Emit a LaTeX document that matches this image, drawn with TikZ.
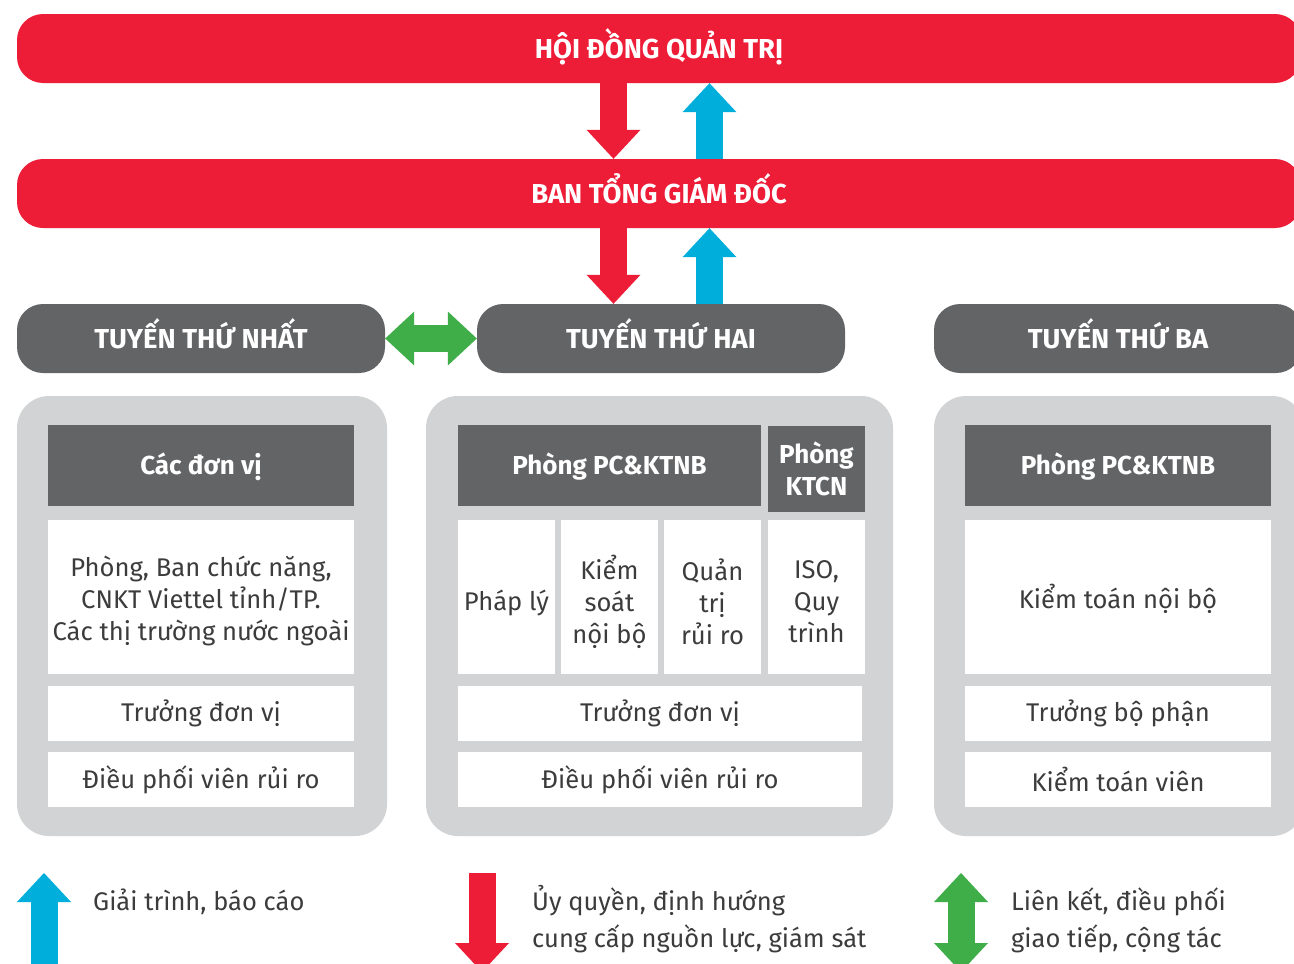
\documentclass[tikz,border=0pt]{standalone}
\usepackage{fontspec}
\setmainfont{Fira Sans}
\newfontfamily\hfont{Fira Sans Bold}
\usetikzlibrary{arrows.meta}
\definecolor{vred}{HTML}{ED1C37}
\definecolor{vblue}{HTML}{00AEDB}
\definecolor{vgreen}{HTML}{3FAE49}
\definecolor{dgray}{HTML}{636466}
\definecolor{lgray}{HTML}{D1D3D4}
\definecolor{txt}{HTML}{3C3C3C}
\begin{document}
\begin{tikzpicture}[x=1pt,y=-1pt,
  pill/.style={rectangle, rounded corners=26pt, inner sep=0pt, minimum height=69pt, text height=19pt, text depth=0pt, text=white, font=\hfont\fontsize{27.4}{30}\selectfont},
  redpill/.style={pill, fill=vred, minimum width=1284pt},
  graypill/.style={pill, fill=dgray, minimum width=368pt},
  panel/.style={rectangle, rounded corners=32pt, fill=lgray, inner sep=0pt, minimum height=440pt},
  hbox/.style={rectangle, fill=dgray, inner sep=0pt, text=white, font=\hfont\fontsize{26}{32}\selectfont, align=center},
  hcap/.style={text height=17.5pt, text depth=0pt},
  wbox/.style={rectangle, fill=white, inner sep=0pt, text=txt, font=\fontsize{25.6}{32}\selectfont, align=center},
  wtxt/.style={inner sep=0pt, text=txt, font=\fontsize{25.6}{32}\selectfont, align=center},
  legtext/.style={anchor=base west, inner sep=0pt, text=txt, font=\fontsize{25.5}{32}\selectfont},
  fatarr/.style={line width=27pt, -{Triangle[width=54pt,length=29pt,line width=0pt]}},
  fatboth/.style={line width=27pt, {Triangle[width=54pt,length=29pt,line width=0pt]}-{Triangle[width=54pt,length=29pt,line width=0pt]}},
]
\useasboundingbox (0,0) rectangle (1294,964);
\clip (0,0) rectangle (1294,964);
\fill[white] (0,0) rectangle (1294,964);

\node[redpill] (hdqt) at (659,48.5) {HỘI ĐỒNG QUẢN TRỊ};
\node[redpill] (btgd) at (659,193.5) {BAN TỔNG GIÁM ĐỐC};
\node[graypill] (t1) at (201,338.5) {TUYẾN THỨ NHẤT};
\node[graypill] (t2) at (661,338.5) {TUYẾN THỨ HAI};
\node[graypill] (t3) at (1118,338.5) {TUYẾN THỨ BA};

\node[panel, minimum width=370pt] (p1) at (202,616) {};
\node[panel, minimum width=467pt] (p2) at (659.5,616) {};
\node[panel, minimum width=370pt] (p3) at (1119,616) {};

% panel 1
\node[hbox, hcap, minimum width=306pt, minimum height=81pt] (h1) at (201,465.5) {Các đơn vị};
\node[wbox, minimum width=306pt, minimum height=154pt] (b1) at (201,597) {};
\node[wtxt] (b1t) at ([yshift=-4pt]b1.center) {Phòng, Ban chức năng,\\CNKT Viettel tỉnh/TP.\\Các thị trường nước ngoài};
\node[wbox, minimum width=306pt, minimum height=55pt] (r11) at (201,713.5) {Trưởng đơn vị};
\node[wbox, minimum width=306pt, minimum height=55pt] (r12) at (201,779.5) {Điều phối viên rủi ro};

% panel 2
\node[hbox, hcap, minimum width=303pt, minimum height=81pt] (h2) at (609.5,465.5) {Phòng PC\&KTNB};
\node[hbox, minimum width=97pt, minimum height=86pt] (h2b) at (816.5,469) {Phòng\\KTCN};
\node[wbox, minimum width=97pt, minimum height=154pt] (c1) at (506.5,597) {};
\node[wbox, minimum width=97pt, minimum height=154pt] (c2) at (609.5,597) {};
\node[wbox, minimum width=97pt, minimum height=154pt] (c3) at (712.5,597) {};
\node[wbox, minimum width=97pt, minimum height=154pt] (c4) at (816.5,597) {};
\node[wtxt] (c1t) at ([yshift=-6pt]c1.center) {Pháp lý};
\node[wtxt] (c2t) at ([yshift=-5pt]c2.center) {Kiểm\\soát\\nội bộ};
\node[wtxt] (c3t) at ([yshift=-5pt]c3.center) {Quản\\trị\\rủi ro};
\node[wtxt] (c4t) at ([yshift=-5pt]c4.center) {ISO,\\Quy\\trình};
\node[wbox, minimum width=404pt, minimum height=55pt] (r21) at (660,713.5) {Trưởng đơn vị};
\node[wbox, minimum width=404pt, minimum height=55pt] (r22) at (660,779.5) {Điều phối viên rủi ro};

% panel 3
\node[hbox, hcap, minimum width=306pt, minimum height=81pt] (h3) at (1118,465.5) {Phòng PC\&KTNB};
\node[wbox, minimum width=306pt, minimum height=154pt] (b3) at (1118,597) {};
\node[wtxt] (b3t) at ([yshift=-2pt]b3.center) {Kiểm toán nội bộ};
\node[wbox, minimum width=306pt, minimum height=55pt] (r31) at (1118,713.5) {Trưởng bộ phận};
\node[wbox, minimum width=306pt, minimum height=55pt] (r32) at (1118,779.5) {Kiểm toán viên};

% connectors
\draw[fatarr, vred] ([xshift=-45.5pt]hdqt.south) -- ([xshift=-45.5pt]btgd.north);
\draw[fatarr, vblue] ([xshift=50.5pt]btgd.north) -- ([xshift=50.5pt]hdqt.south);
\draw[fatarr, vred] ([xshift=-45.5pt]btgd.south) -- ([xshift=-45.5pt]btgd.south |- t2.north);
\draw[fatarr, vblue] ([xshift=50.5pt]btgd.south |- t2.north) -- ([xshift=50.5pt]btgd.south);
\draw[fatboth, vgreen] (t1.east) -- (t2.west);

% legend
\coordinate (lb0) at (44,975); \coordinate (lb1) at (44,873);
\draw[fatarr, vblue] (lb0) -- (lb1);
\coordinate (lr0) at (482,873); \coordinate (lr1) at (482,972);
\draw[fatarr, vred] (lr0) -- (lr1);
\coordinate (lg0) at (961,873); \coordinate (lg1) at (961,972);
\draw[fatboth, vgreen] (lg0) -- (lg1);
\node[legtext] (lt1) at (93,910) {Giải trình, báo cáo};
\node[legtext] (lt2) at (532,910) {Ủy quyền, định hướng};
\node[legtext] (lt3) at (532,947) {cung cấp nguồn lực, giám sát};
\node[legtext] (lt4) at (1011,910) {Liên kết, điều phối};
\node[legtext] (lt5) at (1011,947) {giao tiếp, cộng tác};
\end{tikzpicture}
\end{document}
